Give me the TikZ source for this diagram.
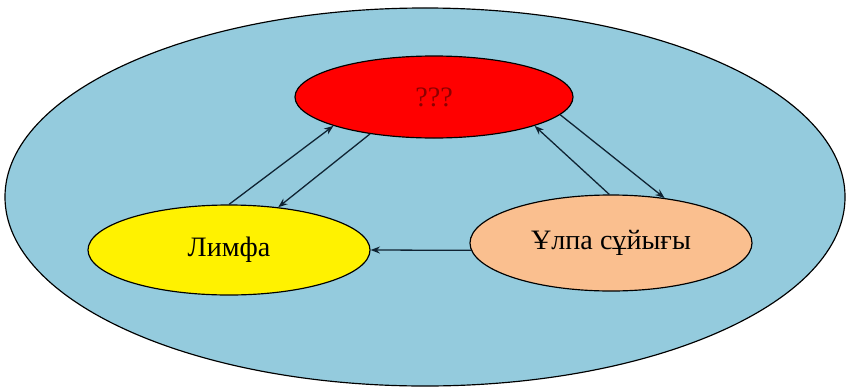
\documentclass[tikz,border=0pt]{standalone}
\usepackage{fontspec}
\setmainfont{Liberation Serif}
\usepackage{tikz}
\usetikzlibrary{arrows.meta,shapes.geometric,positioning}

\definecolor{bodyblue}{RGB}{148,203,221}
\definecolor{peach}{RGB}{250,191,143}
\definecolor{qred}{RGB}{140,0,0}
\definecolor{flowline}{RGB}{15,35,50}

\begin{document}
\begin{tikzpicture}[x=0.03cm,y=-0.03cm,
        fluid/.style={ellipse,draw=black,line width=1pt,inner sep=0pt,
                      font=\fontsize{24}{28}\selectfont},
        flow/.style={-{Stealth[length=8pt,width=6pt]},draw=flowline,line width=1.1pt}]
        \useasboundingbox (0,0) rectangle (850,389);
        \node[fluid, fill=bodyblue, minimum width=25.2cm, minimum height=11.34cm] (body) at (425,197) {};
        \node[fluid, fill=red, minimum width=8.34cm, minimum height=2.46cm, text=qred] (blood) at (434,97) {???};
        \node[fluid, fill=yellow, minimum width=8.46cm, minimum height=2.7cm] (lymph) at (229,250) {Лимфа};
        \node[fluid, fill=peach, minimum width=8.46cm, minimum height=2.88cm] (tissue) at (611,243) {Ұлпа сұйығы};
        \draw[flow] (lymph.north) -- (blood.196);
        \draw[flow] (blood.210) -- (lymph.41);
        \draw[flow] (tissue.92) -- (blood.344);
        \draw[flow] (blood.352) -- (tissue.40);
        \draw[flow] (tissue.183) -- (lymph.east);
      \end{tikzpicture}
\end{document}
